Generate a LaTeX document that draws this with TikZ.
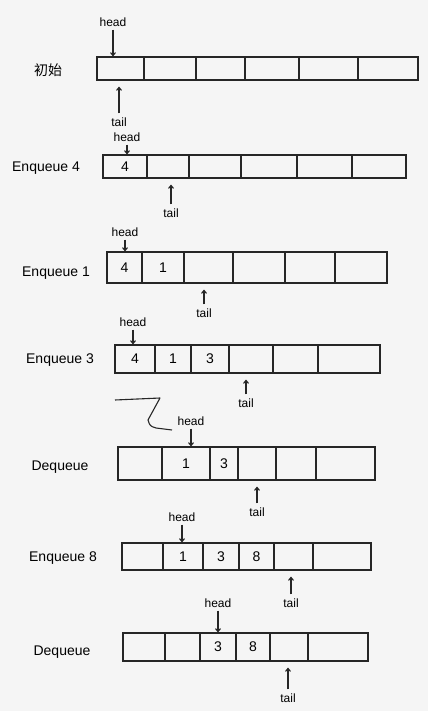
\documentclass[tikz,border=0pt]{standalone}
\usepackage{fontspec}
\setmainfont{Liberation Sans}
\newfontfamily\cjkfont{Noto Sans CJK SC}
\usetikzlibrary{arrows.meta}
\tikzset{
  ink/.style={draw=black!85, line width=1.1pt},
  cellbox/.style={ink, rectangle, inner sep=0pt, font=\fontsize{14}{14}\selectfont},
  rowlabel/.style={font=\fontsize{14}{14}\selectfont, inner sep=1pt},
  ptrlabel/.style={font=\fontsize{12}{12}\selectfont, inner sep=1pt},
  headarrow/.style={ink, -{Straight Barb[length=3pt,width=5pt]}, shorten <=2pt},
  tailarrow/.style={ink, -{Straight Barb[length=3pt,width=5pt]}, shorten <=3pt, shorten >=6pt},
}
% #1 row name, #2 y top, #3 y bottom, #4 list x0/x1/value
\newcommand\qrow[4]{%
  \foreach \a/\b/\v [count=\i] in {#4} {%
    \pgfmathsetmacro\qw{\b-\a}%
    \pgfmathsetmacro\qh{#3-#2}%
    \pgfmathsetmacro\qx{(\a+\b)/2}%
    \pgfmathsetmacro\qy{(#2+#3)/2}%
    \node[cellbox, minimum width=\qw pt, minimum height=\qh pt] (#1c\i) at (\qx,\qy) {\v};
  }%
}
\begin{document}
\begin{tikzpicture}[x=1pt,y=-1pt]
\useasboundingbox[fill=black!4] (0,0) rectangle (428,711);

% Row 1
\qrow{r1}{57}{80}{97/144/{},144/196/{},196/245/{},245/299/{},299/358/{},358/418/{}}
\node[rowlabel] (l1) at (48,70) {\cjkfont 初始};
\node[ptrlabel] (h1) at (113,22) {head};
\node[ptrlabel] (t1) at (119,122) {tail};
\draw[headarrow] (h1.south) -- (h1.south |- r1c1.north);
\draw[tailarrow] (t1.north) -- (t1.north |- r1c1.south);

% Row 2
\qrow{r2}{155}{178}{103/147/4,147/189/{},189/241/{},241/297/{},297/352/{},352/406/{}}
\node[rowlabel] (l2) at (46,168) {Enqueue 4};
\node[ptrlabel] (h2) at (127,137) {head};
\node[ptrlabel] (t2) at (171,213) {tail};
\draw[headarrow] (h2.south) -- (h2.south |- r2c1.north);
\draw[tailarrow] (t2.north) -- (t2.north |- r2c2.south);

% Row 3
\qrow{r3}{252}{283}{107/142/4,142/184/1,184/233/{},233/285/{},285/335/{},335/387/{}}
\node[rowlabel] (l3) at (56,273) {Enqueue 1};
\node[ptrlabel] (h3) at (125,232) {head};
\node[ptrlabel] (t3) at (204,313) {tail};
\draw[headarrow] (h3.south) -- (h3.south |- r3c1.north);
\draw[tailarrow] (t3.north) -- (t3.north |- r3c3.south);

% Row 4
\qrow{r4}{345}{373}{115/155/4,155/191/1,191/229/3,229/273/{},273/318/{},318/380/{}}
\node[rowlabel] (l4) at (60,360) {Enqueue 3};
\node[ptrlabel] (h4) at (133,322) {head};
\node[ptrlabel] (t4) at (246,403) {tail};
\draw[headarrow] (h4.south) -- (h4.south |- r4c1.north);
\draw[tailarrow] (t4.north) -- (t4.north |- r4c4.south);

% squiggle
\draw[ink, line join=round] (115,400) -- (160,398) -- (148,420) .. controls (150,426) .. (156,428) -- (172,430);

% Row 5
\qrow{r5}{447}{480}{118/162/{},162/210/1,210/238/3,238/276/{},276/316/{},316/375/{}}
\node[rowlabel] (l5) at (60,467) {Dequeue};
\node[ptrlabel] (h5) at (191,421) {head};
\node[ptrlabel] (t5) at (257,512) {tail};
\draw[headarrow] (h5.south) -- (h5.south |- r5c2.north);
\draw[tailarrow] (t5.north) -- (t5.north |- r5c4.south);

% Row 6
\qrow{r6}{543}{570}{122/163/{},163/203/1,203/239/3,239/274/8,274/313/{},313/371/{}}
\node[rowlabel] (l6) at (63,558) {Enqueue 8};
\node[ptrlabel] (h6) at (182,517) {head};
\node[ptrlabel] (t6) at (291,603) {tail};
\draw[headarrow] (h6.south) -- (h6.south |- r6c2.north);
\draw[tailarrow] (t6.north) -- (t6.north |- r6c5.south);

% Row 7
\qrow{r7}{633}{661}{123/165/{},165/200/{},200/236/3,236/270/8,270/308/{},308/368/{}}
\node[rowlabel] (l7) at (62,652) {Dequeue};
\node[ptrlabel] (h7) at (218,603) {head};
\node[ptrlabel] (t7) at (288,698) {tail};
\draw[headarrow] (h7.south) -- (h7.south |- r7c3.north);
\draw[tailarrow] (t7.north) -- (t7.north |- r7c5.south);
\end{tikzpicture}
\end{document}
